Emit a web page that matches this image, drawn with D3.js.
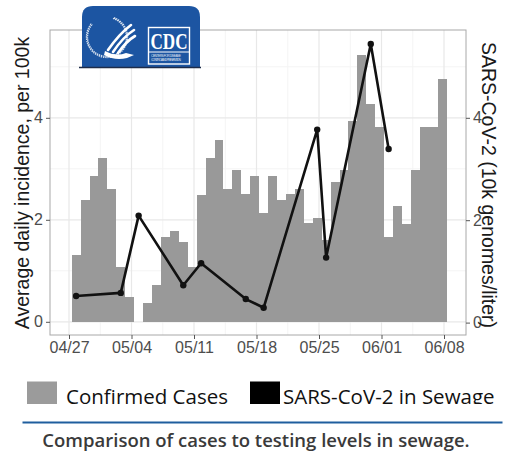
<!DOCTYPE html>
<html>
<head>
    <meta charset="utf-8">
    <title>Cases vs sewage</title>
    <script src="https://d3js.org/d3.v7.min.js"></script>
    <style>
        body { margin: 0; background: #fff; }
    </style>
</head>
<body>
<div id="chart"></div>
<script type="text/javascript">
    // daily confirmed cases, 04/28 .. 06/08
    let caseStart = "2020-04-28";
    let caseValues = [1.31, 2.38, 2.86, 3.22, 2.61, 1.08, 0.49, 0, 0.36, 0.72,
        1.67, 1.79, 1.56, 1.08, 2.49, 3.22, 3.56, 2.61, 2.97, 2.50,
        2.86, 2.14, 2.86, 2.39, 2.50, 2.61, 1.93, 2.03, 1.60, 2.75,
        2.97, 3.93, 5.23, 4.28, 3.81, 1.67, 2.27, 1.92, 2.97, 3.81,
        3.81, 4.76];

    // sewage samples
    let sewageDates = ["2020-04-28", "2020-05-03", "2020-05-05", "2020-05-10", "2020-05-12",
        "2020-05-17", "2020-05-19", "2020-05-25", "2020-05-26", "2020-05-31", "2020-06-02"];
    let sewageValues = [0.52, 0.58, 2.09, 0.73, 1.16, 0.46, 0.29, 3.77, 1.27, 5.44, 3.39];

    let tickDates = ["2020-04-27", "2020-05-04", "2020-05-11", "2020-05-18", "2020-05-25", "2020-06-01", "2020-06-08"];
    let yTicks = [0, 2, 4];
    let yMinor = [1, 3, 5];
    let legendLabels = ["Confirmed Cases", "SARS-CoV-2 in Sewage"];
    let caption = "Comparison of cases to testing levels in sewage.";

    let parse = d3.timeParse("%Y-%m-%d");
    let ticks = tickDates.map(parse);
    let cases = caseValues.map(function(v, i) {
        return {date: d3.timeDay.offset(parse(caseStart), i), value: v};
    });
    let sewage = sewageDates.map(function(d, i) {
        return {date: parse(d), value: sewageValues[i]};
    });

    let W = 517, H = 452;
    let panel = {left: 50, right: 466, top: 30, bottom: 335};

    let svg = d3.select("#chart")
        .append("svg")
            .attr("width", W)
            .attr("height", H)
            .style("background", "#fff");

    let x = d3.scaleTime()
        .domain([ticks[0], ticks[ticks.length - 1]])
        .range([69, 444]);

    let y = d3.scaleLinear()
        .domain([0, 4])
        .range([321.8, 117.8]);

    let y2 = d3.scaleLinear()
        .domain([0, 4])
        .range([322.6, 117.8]);

    // marks sit a little left of the date ticks in the source
    function xd(d, dayFrac) {
        return x(d3.timeMinute.offset(d, -290 + Math.round((dayFrac || 0) * 1440)));
    }

    // minor + major grid
    let minorX = ticks.slice(0, -1).map(function(d) { return d3.timeHour.offset(d, 84); });
    svg.selectAll(".vminor")
        .data(minorX)
        .enter().append("line")
        .attr("x1", function(d) { return x(d); })
        .attr("x2", function(d) { return x(d); })
        .attr("y1", panel.top).attr("y2", panel.bottom)
        .attr("stroke", "#f4f4f4").attr("stroke-width", 1);

    svg.selectAll(".hminor")
        .data(yMinor)
        .enter().append("line")
        .attr("x1", panel.left).attr("x2", panel.right)
        .attr("y1", function(d) { return y(d); })
        .attr("y2", function(d) { return y(d); })
        .attr("stroke", "#f4f4f4").attr("stroke-width", 1);

    svg.selectAll(".vmajor")
        .data(ticks)
        .enter().append("line")
        .attr("x1", function(d) { return x(d); })
        .attr("x2", function(d) { return x(d); })
        .attr("y1", panel.top).attr("y2", panel.bottom)
        .attr("stroke", "#e8e8e8").attr("stroke-width", 1.2);

    svg.selectAll(".hmajor")
        .data(yTicks)
        .enter().append("line")
        .attr("x1", panel.left).attr("x2", panel.right)
        .attr("y1", function(d) { return y(d); })
        .attr("y2", function(d) { return y(d); })
        .attr("stroke", "#e8e8e8").attr("stroke-width", 1.2);

    // bars
    svg.selectAll(".bar")
        .data(cases)
        .enter().append("rect")
        .attr("x", function(d) { return xd(d.date, -0.5); })
        .attr("width", function(d) { return xd(d.date, 0.5) - xd(d.date, -0.5); })
        .attr("y", function(d) { return y(d.value); })
        .attr("height", function(d) { return y(0) - y(d.value); })
        .attr("fill", "#999999")
        .attr("shape-rendering", "crispEdges");

    // sewage line
    let line = d3.line()
        .x(function(d) { return xd(d.date); })
        .y(function(d) { return y2(d.value); });

    svg.append("path")
        .datum(sewage)
        .attr("d", line)
        .attr("fill", "none")
        .attr("stroke", "#111")
        .attr("stroke-width", 2.6)
        .attr("stroke-linejoin", "round");

    svg.selectAll(".pt")
        .data(sewage)
        .enter().append("circle")
        .attr("cx", function(d) { return xd(d.date); })
        .attr("cy", function(d) { return y2(d.value); })
        .attr("r", 3.2)
        .attr("fill", "#111");

    // panel border
    svg.append("rect")
        .attr("x", panel.left).attr("y", panel.top)
        .attr("width", panel.right - panel.left)
        .attr("height", panel.bottom - panel.top)
        .attr("fill", "none")
        .attr("stroke", "#a8a8a8")
        .attr("stroke-width", 1);

    // axes
    function styleAxis(g) {
        g.select(".domain").remove();
        g.selectAll(".tick line").attr("stroke", "#555").attr("stroke-width", 1);
        g.selectAll(".tick text")
            .attr("fill", "#4d4d4d")
            .attr("font-family", "'Liberation Sans', Arial, sans-serif")
            .attr("font-size", "16px");
    }

    svg.append("g")
        .attr("transform", "translate(0," + panel.bottom + ")")
        .call(d3.axisBottom(x).tickValues(ticks).tickFormat(d3.timeFormat("%m/%d")).tickSize(4).tickPadding(3))
        .call(styleAxis);

    svg.append("g")
        .attr("transform", "translate(" + panel.left + ",0)")
        .call(d3.axisLeft(y).tickValues(yTicks).tickFormat(d3.format("d")).tickSize(4).tickPadding(3))
        .call(styleAxis);

    svg.append("g")
        .attr("transform", "translate(" + panel.right + ",0)")
        .call(d3.axisRight(y2).tickValues(yTicks).tickFormat(d3.format("d")).tickSize(4).tickPadding(3))
        .call(styleAxis);

    // axis titles
    svg.append("text")
        .attr("transform", "translate(22.5,183) rotate(-90)")
        .attr("dy", "0.35em")
        .style("text-anchor", "middle")
        .attr("font-family", "'Liberation Sans', Arial, sans-serif")
        .attr("font-size", "19.5px")
        .attr("fill", "#1a1a1a")
        .text("Average daily incidence, per 100k");

    svg.append("text")
        .attr("transform", "translate(489,185) rotate(90)")
        .attr("dy", "0.35em")
        .style("text-anchor", "middle")
        .attr("font-family", "'Liberation Sans', Arial, sans-serif")
        .attr("font-size", "19.5px")
        .attr("fill", "#1a1a1a")
        .text("SARS-CoV-2 (10k genomes/liter)");

    // CDC logo
    let logo = svg.append("g");
    logo.append("path")
        .attr("d", "M82,67 L82,17 Q82,6 93,6 L189,6 Q200,6 200,17 L200,67 Z")
        .attr("fill", "#1c55a2");
    logo.append("line")
        .attr("x1", 79).attr("x2", 201).attr("y1", 67.5).attr("y2", 67.5)
        .attr("stroke", "#1d2c4a").attr("stroke-width", 1.5);
    logo.append("path")
        .attr("d", d3.arc()({innerRadius: 19.5, outerRadius: 20.5, startAngle: 0.35, endAngle: 2 * Math.PI - 0.9}))
        .attr("transform", "translate(107,37)")
        .attr("fill", "none")
        .attr("stroke", "#fff")
        .attr("stroke-width", 1.4)
        .attr("stroke-dasharray", "1.4 0.8")
        .attr("opacity", 0.8);
    let eagle = ["M131,25 C123,31 115,40 108,50",
                 "M134,30 C126,35 119,43 113,52",
                 "M135,36 C128,40 123,46 118,53"];
    logo.selectAll(".wing")
        .data(eagle)
        .enter().append("path")
        .attr("d", function(d) { return d; })
        .attr("fill", "none")
        .attr("stroke", "#fff")
        .attr("stroke-width", 2.6)
        .attr("stroke-linecap", "round");
    logo.append("path")
        .attr("d", "M105,51 Q116,57 126,53 L134,55 L127,58 Q115,61 104,55 Z")
        .attr("fill", "#fff");
    logo.append("rect")
        .attr("x", 148.5).attr("y", 27.5).attr("width", 41).attr("height", 36.5)
        .attr("fill", "none").attr("stroke", "#fff").attr("stroke-width", 1.4);
    logo.append("text")
        .attr("x", 150.5).attr("y", 48.5)
        .attr("font-family", "'Liberation Serif', 'Times New Roman', serif")
        .attr("font-weight", "bold")
        .attr("font-size", "23px")
        .attr("textLength", 37)
        .attr("lengthAdjust", "spacingAndGlyphs")
        .attr("fill", "#fff")
        .text("CDC");
    logo.append("line")
        .attr("x1", 148.5).attr("x2", 189.5).attr("y1", 52).attr("y2", 52)
        .attr("stroke", "#fff").attr("stroke-width", 1);
    ["CENTERS FOR DISEASE", "CONTROL AND PREVENTION"].forEach(function(t, i) {
        logo.append("text")
            .attr("x", 151).attr("y", 56.5 + i * 4)
            .attr("font-family", "'Liberation Sans', Arial, sans-serif")
            .attr("font-size", "3.3px")
            .attr("textLength", 30)
            .attr("fill", "#fff")
            .attr("opacity", 0.85)
            .text(t);
    });

    // legend (cropped at the bottom in the source)
    svg.append("clipPath").attr("id", "legclip")
        .append("rect").attr("x", 0).attr("y", 360).attr("width", W).attr("height", 44);
    let legend = svg.append("g").attr("clip-path", "url(#legclip)");
    let legendItems = [
        {label: legendLabels[0], color: "#9b9b9b", x: 27, tx: 66},
        {label: legendLabels[1], color: "#000", x: 250, tx: 283}
    ];
    legend.selectAll("rect")
        .data(legendItems)
        .enter().append("rect")
        .attr("x", function(d) { return d.x; })
        .attr("y", 381.5)
        .attr("width", 30)
        .attr("height", 24)
        .attr("fill", function(d) { return d.color; });
    legend.selectAll("text")
        .data(legendItems)
        .enter().append("text")
        .attr("x", function(d) { return d.tx; })
        .attr("y", 403.5)
        .attr("font-family", "'Open Sans', sans-serif")
        .attr("font-size", "20.5px")
        .attr("fill", "#111")
        .text(function(d) { return d.label; });

    // rule + caption
    svg.append("line")
        .attr("x1", 22.5).attr("x2", 502.5)
        .attr("y1", 422.5).attr("y2", 422.5)
        .attr("stroke", "#1f5e9e").attr("stroke-width", 2);

    svg.append("text")
        .attr("x", 256).attr("y", 447)
        .style("text-anchor", "middle")
        .attr("font-family", "'Open Sans', sans-serif")
        .attr("font-weight", 600)
        .attr("font-size", "18.5px")
        .attr("fill", "#3a3a3a")
        .text(caption);
</script>
</body>
</html>
